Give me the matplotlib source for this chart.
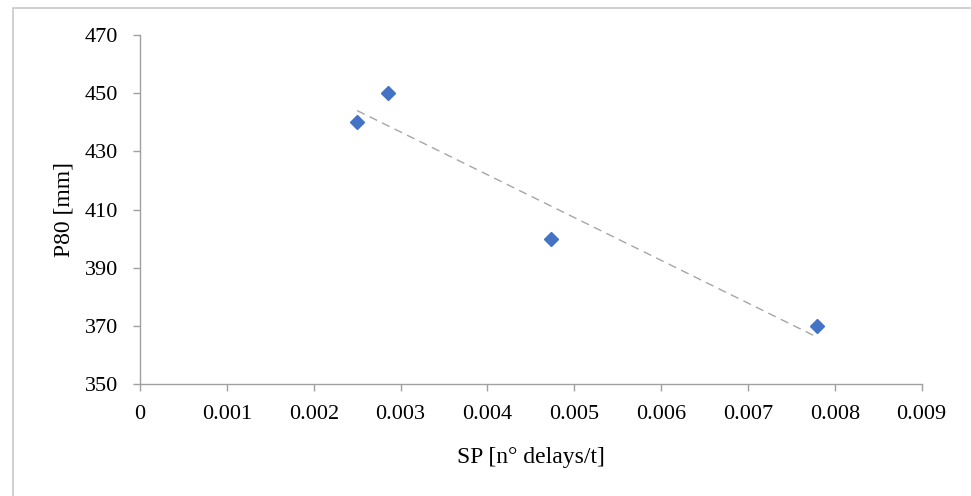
import matplotlib.pyplot as plt
import numpy as np

# SP [n° delays/t] vs P80 [mm]
sp = np.array([0.0025, 0.00286, 0.00473, 0.0078])
p80 = np.array([440, 450, 400, 370])

x_ticks = [0, 0.001, 0.002, 0.003, 0.004, 0.005, 0.006, 0.007, 0.008, 0.009]
x_labels = ['0', '0.001', '0.002', '0.003', '0.004', '0.005', '0.006', '0.007', '0.008', '0.009']
y_ticks = [350, 370, 390, 410, 430, 450, 470]

plt.rcParams['font.family'] = ['Liberation Serif', 'DejaVu Serif']

fig = plt.figure(figsize=(9.71, 4.96), dpi=100)
ax = fig.add_axes([0.1442, 0.2258, 0.8050, 0.7036])

# border round the whole chart area
fig.patches.append(plt.Rectangle((13 / 971, -0.1), 1.2, 1 - 8 / 496 + 0.1,
                                 transform=fig.transFigure, fill=False,
                                 edgecolor='#c8c8c8', lw=1.2))

ax.plot(sp, p80, linestyle='none', marker='D', markersize=7,
        color='#4472C4', zorder=3)

# linear trendline over the data range
k, b = np.polyfit(sp, p80, 1)
xt = np.array([sp.min(), sp.max()])
ax.plot(xt, k * xt + b, linestyle=(0, (6, 4)), color='#a6a6a6', lw=1.0, zorder=2)

ax.set_xlim(0, 0.009)
ax.set_ylim(350, 470)
ax.set_xticks(x_ticks)
ax.set_xticklabels(x_labels)
ax.set_yticks(y_ticks)

for s in ['top', 'right']:
    ax.spines[s].set_visible(False)
for s in ['left', 'bottom']:
    ax.spines[s].set_color('#a0a0a0')
    ax.spines[s].set_linewidth(1.0)

ax.tick_params(axis='both', direction='out', length=5, width=1.0,
               color='#a0a0a0', labelsize=16, labelcolor='black')
ax.tick_params(axis='x', pad=10)
ax.tick_params(axis='y', pad=11)

ax.set_xlabel('SP [n° delays/t]', fontsize=17, labelpad=17)
ax.set_ylabel('P80 [mm]', fontsize=17, labelpad=7)

fig.savefig('out.png', dpi=100)
